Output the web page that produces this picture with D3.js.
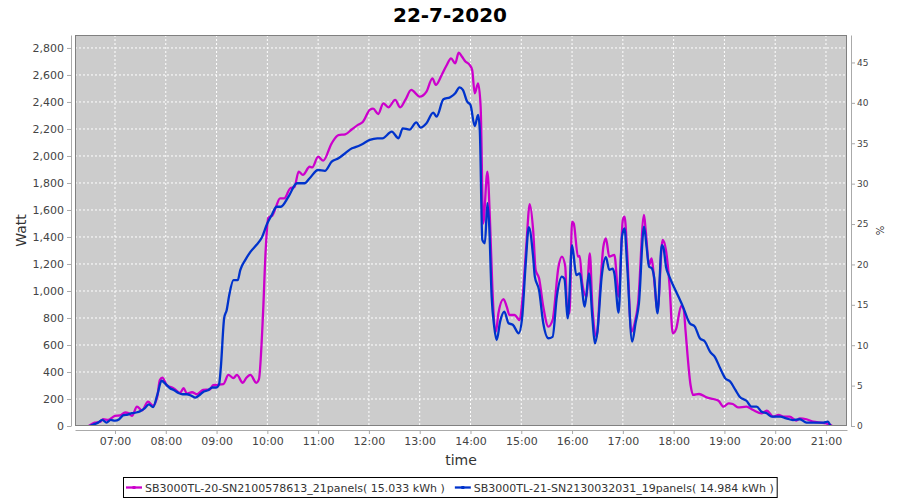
<!DOCTYPE html>
<html>
<head>
<meta charset="utf-8">
<script src="https://cdn.jsdelivr.net/npm/d3@7"></script>
<style>
  body { margin: 0; background: #fff; }
  svg { display: block; font-family: 'DejaVu Sans', sans-serif; }
</style>
</head>
<body>
<div id="chart"></div>
<script>
// ---------------------------------------------------------------------------
// DATA
// ---------------------------------------------------------------------------
const chartTitle = '22-7-2020';

const seriesNames = [
  'SB3000TL-20-SN2100578613_21panels( 15.033 kWh )',
  'SB3000TL-21-SN2130032031_19panels( 14.984 kWh )',
];
const seriesColors = ['#cc00cc', '#0033cc'];

const magentaTimes = [
  '06:29', '06:36', '06:42', '06:46', '06:52', '07:00', '07:06', '07:12', '07:16', '07:20',
  '07:26', '07:32', '07:39', '07:45', '07:50', '07:53', '07:56', '08:01', '08:05', '08:09',
  '08:17', '08:21', '08:25', '08:31', '08:37', '08:44', '08:52', '08:56', '09:01', '09:08',
  '09:14', '09:20', '09:24', '09:31', '09:35', '09:40', '09:47', '09:50', '09:55', '09:58',
  '10:01', '10:03', '10:06', '10:10', '10:15', '10:20', '10:27', '10:32', '10:37', '10:42',
  '10:50', '10:53', '11:00', '11:06', '11:16', '11:24', '11:32', '11:40', '11:47', '11:53',
  '12:01', '12:05', '12:11', '12:17', '12:23', '12:31', '12:37', '12:43', '12:50', '13:00',
  '13:08', '13:15', '13:19', '13:26', '13:32', '13:37', '13:42', '13:46', '13:50', '13:54',
  '13:59', '14:02', '14:05', '14:09', '14:12', '14:15', '14:20', '14:23', '14:26', '14:30',
  '14:33', '14:39', '14:43', '14:46', '14:52', '14:58', '15:02', '15:06', '15:10', '15:14',
  '15:17', '15:21', '15:26', '15:32', '15:37', '15:44', '15:48', '15:52', '15:54', '15:57',
  '16:00', '16:02', '16:07', '16:09', '16:12', '16:17', '16:21', '16:24', '16:29', '16:33',
  '16:37', '16:40', '16:44', '16:50', '16:55', '17:00', '17:02', '17:05', '17:10', '17:14',
  '17:18', '17:25', '17:27', '17:31', '17:34', '17:36', '17:41', '17:47', '17:51', '17:55',
  '17:59', '18:03', '18:09', '18:12', '18:14', '18:20', '18:23', '18:30', '18:39', '18:47',
  '18:53', '18:59', '19:05', '19:10', '19:16', '19:26', '19:34', '19:44', '19:50', '19:58',
  '20:04', '20:10', '20:17', '20:25', '20:29', '20:37', '20:45', '20:53', '21:00', '21:07',
];
const magentaWatts = [
  0, 25, 30, 50, 45, 75, 78, 100, 95, 75,
  143, 115, 180, 150, 220, 340, 358, 303, 290, 280,
  245, 280, 240, 250, 235, 267, 270, 303, 305, 310,
  378, 355, 378, 320, 355, 378, 320, 345, 847, 1300,
  1540, 1550, 1560, 1620, 1686, 1686, 1760, 1770, 1884, 1860,
  1920, 1915, 1995, 1965, 2094, 2155, 2160, 2198, 2230, 2254,
  2341, 2350, 2311, 2390, 2360, 2415, 2360, 2415, 2489, 2440,
  2477, 2575, 2526, 2600, 2674, 2723, 2686, 2765, 2735, 2700,
  2674, 2637, 2464, 2538, 2365, 1500, 1884, 1526, 1000, 698,
  835, 940, 880, 822, 822, 785, 983, 1340, 1644, 1452,
  1156, 1094, 884, 736, 785, 1180, 1254, 1180, 884, 835,
  1514, 1500, 1254, 1260, 1057, 958, 1279, 884, 661, 1007,
  1328, 1390, 1254, 1267, 958, 1526, 1550, 1300, 698, 761,
  909, 1563, 1450, 1193, 1242, 1150, 859, 1378, 1300, 1057,
  687, 720, 890, 860, 711, 304, 230, 237, 212, 200,
  187, 143, 168, 163, 138, 143, 118, 94, 113, 69,
  82, 69, 69, 40, 57, 50, 32, 25, 20, 3,
];

const blueTimes = [
  '06:30', '06:36', '06:40', '06:45', '06:50', '06:55', '07:00', '07:05', '07:10', '07:15',
  '07:20', '07:25', '07:30', '07:35', '07:40', '07:45', '07:50', '07:55', '08:00', '08:05',
  '08:10', '08:15', '08:20', '08:25', '08:30', '08:35', '08:40', '08:45', '08:50', '08:55',
  '09:00', '09:03', '09:05', '09:09', '09:12', '09:15', '09:20', '09:25', '09:28', '09:34',
  '09:40', '09:47', '09:53', '10:00', '10:05', '10:11', '10:16', '10:25', '10:35', '10:44',
  '10:50', '11:00', '11:08', '11:16', '11:24', '11:32', '11:40', '11:44', '11:52', '12:01',
  '12:10', '12:16', '12:27', '12:35', '12:40', '12:48', '12:56', '13:01', '13:08', '13:16',
  '13:20', '13:28', '13:36', '13:42', '13:47', '13:51', '13:56', '14:00', '14:05', '14:09',
  '14:11', '14:14', '14:17', '14:20', '14:22', '14:25', '14:28', '14:31', '14:35', '14:40',
  '14:45', '14:50', '14:57', '15:01', '15:05', '15:09', '15:14', '15:16', '15:21', '15:26',
  '15:32', '15:37', '15:42', '15:48', '15:51', '15:55', '16:00', '16:05', '16:09', '16:15',
  '16:20', '16:24', '16:27', '16:30', '16:35', '16:40', '16:44', '16:48', '16:50', '16:55',
  '16:59', '17:02', '17:05', '17:11', '17:15', '17:19', '17:25', '17:28', '17:31', '17:34',
  '17:37', '17:41', '17:46', '17:48', '17:51', '17:55', '18:03', '18:11', '18:19', '18:25',
  '18:31', '18:37', '18:43', '18:49', '18:55', '19:01', '19:07', '19:13', '19:18', '19:26',
  '19:32', '19:38', '19:44', '19:50', '19:56', '20:06', '20:13', '20:21', '20:29', '20:37',
  '20:49', '20:57', '21:02', '21:05',
];
const blueWatts = [
  0, 15, 25, 45, 25, 45, 40, 50, 80, 85,
  95, 100, 110, 130, 160, 140, 230, 335, 310, 280,
  265, 245, 235, 235, 225, 210, 230, 255, 265, 285,
  285, 310, 430, 800, 860, 970, 1080, 1080, 1155, 1230,
  1290, 1340, 1390, 1501, 1560, 1624, 1624, 1699, 1798, 1798,
  1835, 1896, 1890, 1958, 1983, 2020, 2057, 2065, 2087, 2119,
  2131, 2131, 2180, 2131, 2205, 2195, 2249, 2210, 2242, 2321,
  2292, 2420, 2435, 2464, 2508, 2490, 2403, 2378, 2222, 2304,
  2193, 1378, 1353, 1650, 1500, 958, 736, 637, 773, 847,
  761, 750, 687, 800, 1180, 1472, 1254, 1106, 1007, 761,
  650, 660, 958, 1106, 1090, 797, 1340, 1118, 1130, 884,
  1131, 800, 612, 700, 1106, 1250, 1156, 1165, 1130, 839,
  1403, 1464, 1200, 625, 761, 909, 1477, 1330, 1180, 1170,
  1100, 835, 1340, 1320, 1180, 1106, 995, 884, 761, 736,
  650, 625, 550, 509, 427, 353, 328, 267, 217, 187,
  143, 143, 106, 94, 69, 69, 57, 44, 50, 25,
  25, 25, 32, 5,
];

const wattTicks = [0, 200, 400, 600, 800, 1000, 1200, 1400, 1600, 1800, 2000, 2200, 2400, 2600, 2800];
const pctTicks = [0, 5, 10, 15, 20, 25, 30, 35, 40, 45];
const hourTicks = ['07:00', '08:00', '09:00', '10:00', '11:00', '12:00', '13:00', '14:00',
  '15:00', '16:00', '17:00', '18:00', '19:00', '20:00', '21:00'];
const timeDomain = ['06:12:45', '21:24:50'];
const wattDomain = [0, 2896];
const pctDomain = [0, 48.4];

// ---------------------------------------------------------------------------
// SETUP
// ---------------------------------------------------------------------------
function parseTime(s) {
  const p = s.split(':').map(Number);
  return new Date(2020, 6, 22, p[0], p[1], p[2] || 0);
}

const plot = { left: 75, top: 35, right: 847, bottom: 426 };

const svg = d3.select('#chart').append('svg')
  .attr('width', 900)
  .attr('height', 500);

const x = d3.scaleTime()
  .domain(timeDomain.map(parseTime))
  .range([plot.left, plot.right]);

const y = d3.scaleLinear()
  .domain(wattDomain)
  .range([plot.bottom, plot.top]);

const yPct = d3.scaleLinear()
  .domain(pctDomain)
  .range([plot.bottom, plot.top]);

// title
svg.append('text')
  .attr('x', 450)
  .attr('y', 22)
  .attr('text-anchor', 'middle')
  .style('font-size', '20px')
  .style('font-weight', 'bold')
  .attr('fill', '#000')
  .text(chartTitle);

// plot background
svg.append('rect')
  .attr('x', plot.left)
  .attr('y', plot.top)
  .attr('width', plot.right - plot.left)
  .attr('height', plot.bottom - plot.top)
  .attr('fill', '#cccccc');

// gridlines
const grid = svg.append('g').attr('class', 'grid');
grid.selectAll('.vgrid')
  .data(hourTicks.map(parseTime))
  .enter().append('line')
    .attr('x1', d => x(d))
    .attr('x2', d => x(d))
    .attr('y1', plot.top)
    .attr('y2', plot.bottom)
    .attr('stroke', '#ffffff')
    .attr('stroke-width', 1)
    .attr('stroke-dasharray', '2,2');

grid.selectAll('.hgrid')
  .data(wattTicks)
  .enter().append('line')
    .attr('x1', plot.left)
    .attr('x2', plot.right)
    .attr('y1', d => y(d))
    .attr('y2', d => y(d))
    .attr('stroke', '#ffffff')
    .attr('stroke-width', 1)
    .attr('stroke-dasharray', '2,2');

// ---------------------------------------------------------------------------
// LINES
// ---------------------------------------------------------------------------
const series = [
  { name: seriesNames[0], color: seriesColors[0], values: magentaTimes.map((t, i) => ({ t: parseTime(t), v: magentaWatts[i] })) },
  { name: seriesNames[1], color: seriesColors[1], values: blueTimes.map((t, i) => ({ t: parseTime(t), v: blueWatts[i] })) },
];

const line = d3.line()
  .x(d => x(d.t))
  .y(d => y(d.v))
  .curve(d3.curveMonotoneX);

svg.append('defs').append('clipPath').attr('id', 'clip')
  .append('rect')
    .attr('x', plot.left)
    .attr('y', plot.top)
    .attr('width', plot.right - plot.left)
    .attr('height', plot.bottom - plot.top);

svg.append('g')
  .attr('clip-path', 'url(#clip)')
  .selectAll('.series')
  .data(series)
  .enter().append('path')
    .attr('class', 'series')
    .attr('fill', 'none')
    .attr('stroke', d => d.color)
    .attr('stroke-width', 2.3)
    .attr('stroke-linejoin', 'round')
    .attr('d', d => line(d.values));

// plot border
svg.append('rect')
  .attr('x', plot.left + 0.5)
  .attr('y', plot.top + 0.5)
  .attr('width', plot.right - plot.left - 1)
  .attr('height', plot.bottom - plot.top - 1)
  .attr('fill', 'none')
  .attr('stroke', '#808080');

// ---------------------------------------------------------------------------
// AXES
// ---------------------------------------------------------------------------
function styleAxis(g, size) {
  g.selectAll('.domain').attr('stroke', '#aaaaaa');
  g.selectAll('.tick line').attr('stroke', '#aaaaaa');
  g.selectAll('.tick text')
    .attr('fill', '#444444')
    .style('font-size', size)
    .style('font-family', 'DejaVu Sans, sans-serif');
}

const yAxis = svg.append('g')
  .attr('transform', `translate(${plot.left - 4}, 0)`)
  .call(d3.axisLeft(y).tickValues(wattTicks).tickFormat(d3.format(',')).tickSizeInner(4).tickSizeOuter(0).tickPadding(3));
styleAxis(yAxis, '11px');

const xAxis = svg.append('g')
  .attr('transform', `translate(0, ${plot.bottom + 4})`)
  .call(d3.axisBottom(x).tickValues(hourTicks.map(parseTime)).tickFormat(d3.timeFormat('%H:%M')).tickSizeInner(4).tickSizeOuter(0).tickPadding(3));
styleAxis(xAxis, '11px');

const pAxis = svg.append('g')
  .attr('transform', `translate(${plot.right + 4}, 0)`)
  .call(d3.axisRight(yPct).tickValues(pctTicks).tickSizeInner(4).tickSizeOuter(0).tickPadding(2));
styleAxis(pAxis, '9px');

// axis labels
svg.append('text')
  .attr('transform', `translate(26, ${(plot.top + plot.bottom) / 2}) rotate(-90)`)
  .attr('text-anchor', 'middle')
  .attr('fill', '#333333')
  .style('font-size', '14px')
  .text('Watt');

svg.append('text')
  .attr('x', (plot.left + plot.right) / 2)
  .attr('y', 465)
  .attr('text-anchor', 'middle')
  .attr('fill', '#333333')
  .style('font-size', '14px')
  .text('time');

svg.append('text')
  .attr('transform', `translate(884, ${(plot.top + plot.bottom) / 2}) rotate(-90)`)
  .attr('text-anchor', 'middle')
  .attr('fill', '#333333')
  .style('font-size', '10px')
  .text('%');

// ---------------------------------------------------------------------------
// LEGEND
// ---------------------------------------------------------------------------
const legend = svg.append('g');
const items = legend.selectAll('.item')
  .data(series)
  .enter().append('g')
    .attr('class', 'item');

items.append('text')
  .attr('x', 19)
  .attr('y', 4)
  .attr('fill', '#333333')
  .style('font-size', '11px')
  .text(d => d.name);

let cursor = 0;
items.each(function (d) {
  const w = d3.select(this).select('text').node().getComputedTextLength();
  d.offset = cursor;
  cursor += 19 + w + 10;
});
const legendWidth = cursor - 10 + 6;
const legendX = Math.round(450 - legendWidth / 2);

items.attr('transform', d => `translate(${legendX + 3 + d.offset}, 487.5)`);

items.append('line')
  .attr('x1', 0)
  .attr('x2', 16)
  .attr('y1', 0)
  .attr('y2', 0)
  .attr('stroke', d => d.color)
  .attr('stroke-width', 2.3);

items.append('rect')
  .attr('x', 6.5)
  .attr('y', -1.5)
  .attr('width', 3)
  .attr('height', 3)
  .attr('fill', d => d.color);

legend.insert('rect', ':first-child')
  .attr('x', legendX + 0.5)
  .attr('y', 477.5)
  .attr('width', legendWidth)
  .attr('height', 20)
  .attr('fill', '#ffffff')
  .attr('stroke', '#000000');
</script>
</body>
</html>
